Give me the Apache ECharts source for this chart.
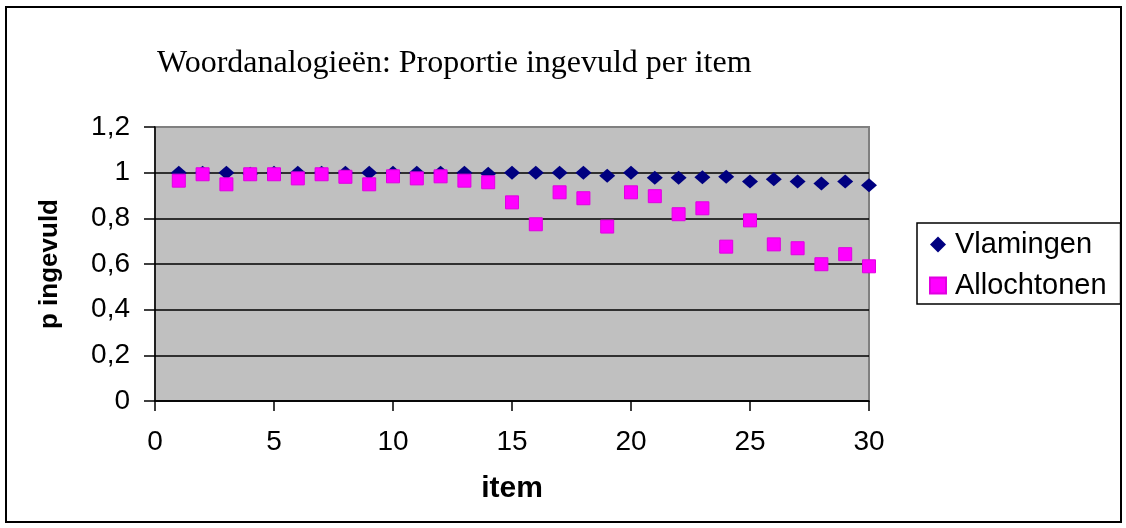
<!DOCTYPE html>
<html>
<head>
<meta charset="utf-8">
<script src="https://cdn.jsdelivr.net/npm/echarts@6/dist/echarts.min.js"></script>
<style>
html,body{margin:0;padding:0;background:#fff;}
#chart{width:1126px;height:528px;}
</style>
</head>
<body>
<div id="chart"></div>
<script>
var titleText = 'Woordanalogieën: Proportie ingevuld per item';
var items = [1,2,3,4,5,6,7,8,9,10,11,12,13,14,15,16,17,18,19,20,21,22,23,24,25,26,27,28,29,30];
var vlamingen = [1.0,1.0,1.0,0.995,1.0,1.0,1.0,1.0,1.0,1.0,1.0,1.0,1.0,0.995,1.0,1.0,1.0,1.0,0.987,1.0,0.978,0.978,0.98,0.982,0.961,0.971,0.961,0.953,0.961,0.945];
var allochtonen = [0.965,0.993,0.949,0.993,0.993,0.975,0.993,0.982,0.949,0.984,0.975,0.984,0.965,0.958,0.870,0.774,0.914,0.888,0.764,0.914,0.897,0.818,0.844,0.676,0.791,0.686,0.669,0.599,0.643,0.590];
var yTicks = {min:0, max:1.2, interval:0.2};
var xTicks = {min:0, max:30, interval:5};

function pairs(xs, ys){ return xs.map(function(x,i){ return [x, ys[i]]; }); }

var chart = echarts.init(document.getElementById('chart'), null, {renderer:'canvas'});
var sans = 'Liberation Sans, Arial, sans-serif';
chart.setOption({
  animation:false,
  backgroundColor:'#ffffff',
  title:{
    text:titleText, left:152, top:43,
    textStyle:{fontFamily:'Liberation Serif, Times New Roman, serif', fontSize:32, fontWeight:'normal', color:'#000'}
  },
  graphic:[{
    type:'rect', z:-1, silent:true,
    shape:{x:6, y:7, width:1115, height:515},
    style:{fill:null, stroke:'#000', lineWidth:2}
  }],
  legend:{
    orient:'vertical', left:917, top:223,
    padding:[7,14,4,12], itemGap:12, itemWidth:16, itemHeight:16,
    borderColor:'#000', borderWidth:1.5, backgroundColor:'#fff',
    textStyle:{fontFamily:sans, fontSize:29, color:'#000', padding:[0,0,0,4]},
    data:[
      {name:'Vlamingen', icon:'diamond'},
      {name:'Allochtonen', icon:'path://M2,2L14,2L14,14L2,14Z'}
    ]
  },
  grid:{
    left:155, right:257, top:127, bottom:127,
    show:true, backgroundColor:'#C0C0C0', borderColor:'#808080', borderWidth:2
  },
  xAxis:{
    type:'value', min:xTicks.min, max:xTicks.max, interval:xTicks.interval,
    name:'item', nameLocation:'middle', nameGap:73,
    nameTextStyle:{fontFamily:sans, fontSize:30, fontWeight:'bold', color:'#000'},
    axisLine:{show:true, onZero:false, lineStyle:{color:'#000', width:1.5}},
    axisTick:{show:true, length:10, lineStyle:{color:'#000', width:1.5}},
    axisLabel:{fontFamily:sans, fontSize:28, color:'#000', margin:27},
    splitLine:{show:false}
  },
  yAxis:{
    type:'value', min:yTicks.min, max:yTicks.max, interval:yTicks.interval,
    name:'p ingevuld', nameLocation:'middle', nameGap:92, nameRotate:90,
    nameTextStyle:{fontFamily:sans, fontSize:26, fontWeight:'bold', color:'#000'},
    axisLine:{show:true, onZero:false, lineStyle:{color:'#000', width:1.5}},
    axisTick:{show:true, length:11, lineStyle:{color:'#000', width:1.5}},
    axisLabel:{fontFamily:sans, fontSize:28, color:'#000', margin:25,
      formatter:function(v){ return String(Math.round(v*10)/10).replace('.', ','); }},
    splitLine:{show:true, lineStyle:{color:['#000','#000','#000','#000','#000','#000','#808080'], width:1.5}}
  },
  series:[
    {
      name:'Vlamingen', type:'scatter', symbol:'diamond', symbolSize:[16,14],
      itemStyle:{color:'#000080', opacity:1},
      data:pairs(items, vlamingen), z:3
    },
    {
      name:'Allochtonen', type:'scatter', symbol:'rect', symbolSize:[13,13],
      itemStyle:{color:'#FF00FF', borderColor:'#E000E0', borderWidth:1, opacity:1},
      data:pairs(items, allochtonen), z:4
    }
  ]
});
</script>
</body>
</html>
